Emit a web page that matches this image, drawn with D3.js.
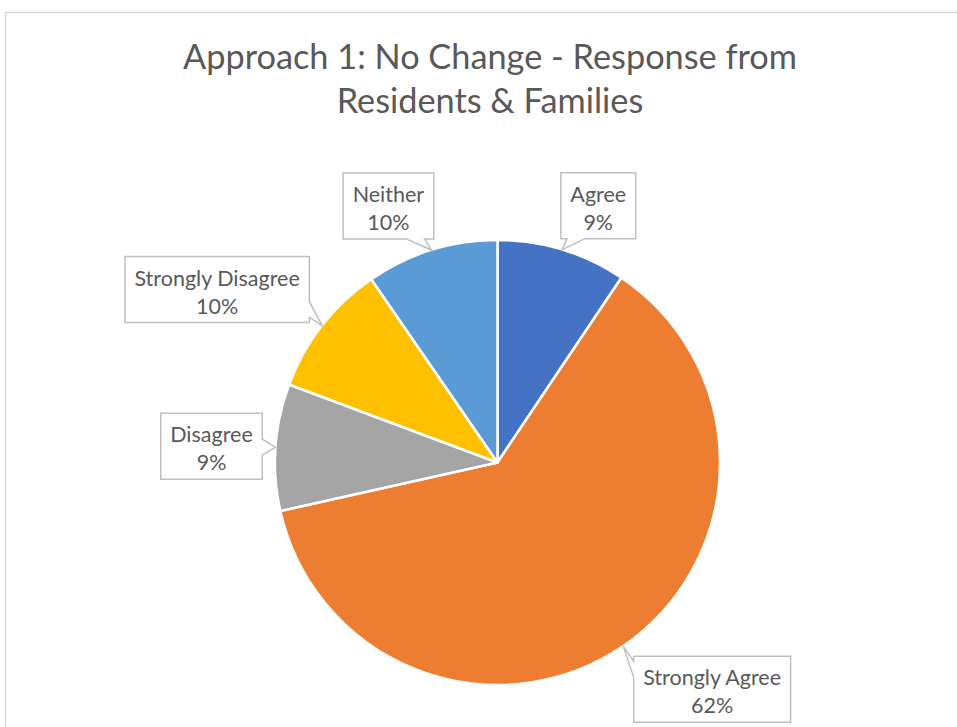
<!DOCTYPE html>
<html>
<head>
<meta charset="utf-8">
<script src="https://cdn.jsdelivr.net/npm/d3@7"></script>
<style>
  body { margin: 0; background: #fff; }
  text { font-family: Lato, "Open Sans", sans-serif; fill: #595959; }
</style>
</head>
<body>
<div id="chart"></div>
<script>
// data
let categories = ["Agree", "Strongly Agree", "Disagree", "Strongly Disagree", "Neither"];
let values = [9.4, 62.1, 9.2, 9.7, 9.6];
let colors = ["#4472c4", "#ed7d31", "#a5a5a5", "#ffc000", "#5b9bd5"];
let title_lines = ["Approach 1: No Change - Response from", "Residents & Families"];

// layout: offset of each callout box centre from the point it points at
let label_offsets = [[36, -44], [89, 43], [-64, -1], [-105, -36], [-43, -44]];

let width = 957;
let height = 727;
let cx = 497.5, cy = 462.5, radius = 222.5;

let svg = d3.select("#chart")
            .append("svg")
            .attr("width", width)
            .attr("height", height);

// chart area border
svg.append("rect")
   .attr("x", 5.5)
   .attr("y", 12.5)
   .attr("width", 1200)
   .attr("height", 1200)
   .style("fill", "none")
   .style("stroke", "#d9d9d9")
   .style("stroke-width", 1.5);

// title
svg.append("g")
   .selectAll("text")
   .data(title_lines)
   .enter()
   .append("text")
   .attr("x", 490)
   .attr("y", function(d, i) { return 69 + i * 44; })
   .attr("text-anchor", "middle")
   .style("font-size", "34.3px")
   .text(function(d) { return d; });

let pie = d3.pie().sort(null).value(function(d) { return d; });
let arcs = pie(values);
let total = d3.sum(values);

let arc = d3.arc().innerRadius(0).outerRadius(radius);
let edge = d3.arc().innerRadius(radius).outerRadius(radius);

let g = svg.append("g")
           .attr("transform", "translate(" + cx + "," + cy + ")");

g.selectAll("path")
 .data(arcs)
 .enter()
 .append("path")
 .attr("d", arc)
 .style("fill", function(d, i) { return colors[i]; })
 .style("stroke", "#fff")
 .style("stroke-width", 2.5)
 .style("stroke-linejoin", "round");

// callout with a wedge pointing at (tx, ty)
function callout(x0, y0, x1, y1, tx, ty) {
  let dl = x0 - tx, dr = tx - x1, dt = y0 - ty, db = ty - y1;
  let m = Math.max(dl, dr, dt, db);
  let p = [];
  function base(a, b, t) {
    let len = b - a;
    let hw = Math.min(len * 0.12, 9);
    let c = Math.max(a + len * 0.2, Math.min(b - len * 0.2, t));
    return [c - hw, c + hw];
  }
  if (m === dt) {
    let b = base(x0, x1, tx);
    p = [[x0, y0], [b[0], y0], [tx, ty], [b[1], y0], [x1, y0], [x1, y1], [x0, y1]];
  } else if (m === db) {
    let b = base(x0, x1, tx);
    p = [[x0, y0], [x1, y0], [x1, y1], [b[1], y1], [tx, ty], [b[0], y1], [x0, y1]];
  } else if (m === dr) {
    let b = base(y0, y1, ty);
    p = [[x0, y0], [x1, y0], [x1, b[0]], [tx, ty], [x1, b[1]], [x1, y1], [x0, y1]];
  } else {
    let b = base(y0, y1, ty);
    p = [[x0, y0], [x1, y0], [x1, y1], [x0, y1], [x0, b[1]], [tx, ty], [x0, b[0]]];
  }
  return "M" + p.map(function(q) { return q.join(","); }).join("L") + "Z";
}

let f = d3.format(".0%");
let labels = svg.append("g");

arcs.forEach(function(d, i) {
  let tip = edge.centroid(d);
  let tx = cx + tip[0], ty = cy + tip[1];
  let bx = tx + label_offsets[i][0], by = ty + label_offsets[i][1];

  let lg = labels.append("g");
  let box = lg.append("path");
  let t = lg.append("text")
            .attr("text-anchor", "middle")
            .style("font-size", "21.5px");
  t.append("tspan").attr("x", bx).attr("y", by - 4).text(categories[i]);
  t.append("tspan").attr("x", bx).attr("y", by + 24).text(f(d.value / total));

  let w = t.node().getBBox().width + 19;
  let h = 66;
  box.attr("d", callout(bx - w / 2, by - h / 2, bx + w / 2, by + h / 2, tx, ty))
     .style("fill", "#fff")
     .style("stroke", "#bfbfbf")
     .style("stroke-width", 1.5);
});
</script>
</body>
</html>
